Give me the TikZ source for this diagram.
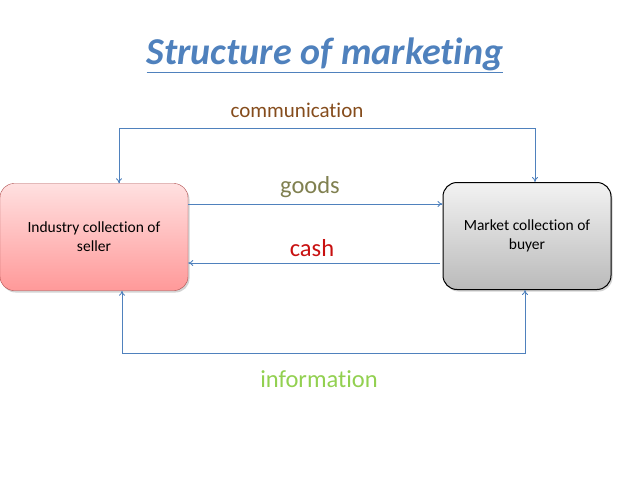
\documentclass[tikz,border=0pt]{standalone}
\usepackage{fontspec}
\setmainfont{Carlito}[Ligatures=NoCommon]
\usetikzlibrary{arrows.meta,positioning,shadows}

\definecolor{linkblue}{RGB}{79,129,189}
\definecolor{commbrown}{RGB}{133,76,28}
\definecolor{goodsolive}{RGB}{128,128,80}
\definecolor{cashred}{RGB}{200,16,16}
\definecolor{infogreen}{RGB}{146,208,80}

\begin{document}
\begin{tikzpicture}[x=1pt,y=-1pt,>={To[length=5pt,width=6pt]},
 box/.style={draw,rounded corners=14pt,align=center,minimum width=188pt,
 minimum height=107pt,font=\fontsize{15.5}{19}\selectfont,
 drop shadow={shadow xshift=1.5pt,shadow yshift=-2pt,opacity=.35}},
 flow/.style={draw=linkblue,line width=.8pt},
 lbl/.style={font=\fontsize{24.5}{28}\selectfont}]
\useasboundingbox (0,0) rectangle (638,479);
\node[text=linkblue,font=\fontsize{38}{42}\bfseries\itshape\selectfont] (title) at (325,55)
 {\underline{Structure of marketing}};
\node[box,draw=red!55!black!70,top color=red!12,bottom color=red!40] (seller) at (94,237)
 {Industry collection of\\seller};
\node[box,minimum width=168pt,draw=black,line width=1pt,top color=black!5,bottom color=black!27] (buyer) at (527,236)
 {Market collection of\\buyer};
% loops over the top and the bottom
\coordinate (commL) at (119,128);
\coordinate (commR) at (535,128);
\coordinate (infoL) at (122,353);
\coordinate (infoR) at (525,353);
\draw[flow,<->] (seller.north -| commL) -- (commL) -- (commR) -- (buyer.north -| commR);
\draw[flow,<->] (seller.south -| infoL) -- (infoL) -- (infoR) -- (buyer.south -| infoR);
\draw[flow,->] ([yshift=33pt]seller.east) -- ([yshift=33pt]seller.east -| buyer.west);
\draw[flow,->] ([xshift=-3pt,yshift=-27pt]buyer.west) -- ([yshift=-27pt]buyer.west -| seller.east);
\node[lbl,text=commbrown,font=\fontsize{21}{24}\selectfont] (comm) at (297,110) {communication};
\node[lbl,text=goodsolive] (goods) at (310,187) {goods};
\node[lbl,text=cashred] (cash) at (312,248) {cash};
\node[lbl,text=infogreen] (info) at (319,379) {information};
\end{tikzpicture}
\end{document}
